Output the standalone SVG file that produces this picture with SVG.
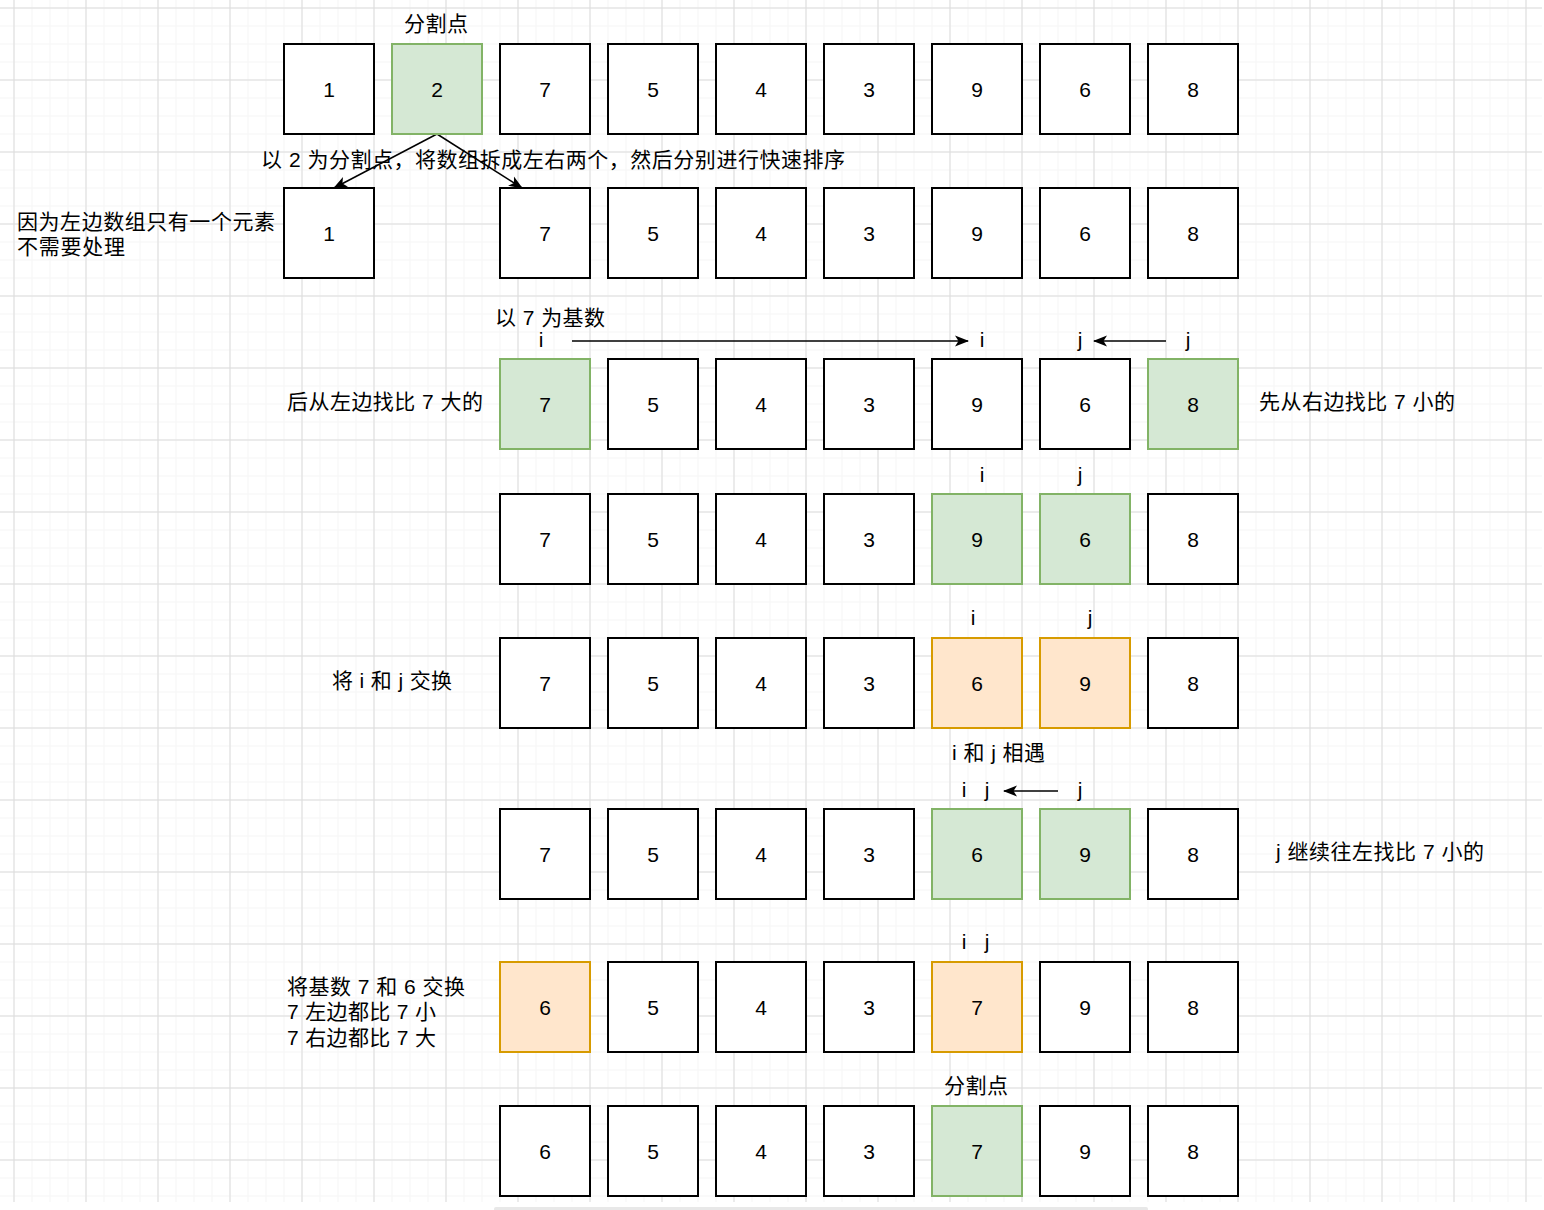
<svg xmlns="http://www.w3.org/2000/svg" width="1544" height="1210" viewBox="0 0 1544 1210">
<style>
.b{fill:#ffffff;stroke:#000000;stroke-width:2}
.g{fill:#d5e8d4;stroke:#82b366;stroke-width:2}
.o{fill:#ffe6cc;stroke:#d79b00;stroke-width:2}
text{font-family:"Liberation Sans","Noto Sans CJK SC",sans-serif;font-size:21px;fill:#000000}
.c{text-anchor:middle}
.e{stroke:#000000;stroke-width:1.5;fill:none}
</style>
<defs>
<pattern id="minor" patternUnits="userSpaceOnUse" x="13.5" y="7.5" width="18" height="18">
<path d="M0 0H18M0 0V18" stroke="#f3f3f3" stroke-width="1.5" fill="none"/>
</pattern>
<pattern id="major" patternUnits="userSpaceOnUse" x="13.5" y="7.5" width="72" height="72">
<path d="M0 0.5H72M0.5 0V72" stroke="#dcdcdc" stroke-width="1" fill="none"/>
</pattern>
<marker id="arr" markerWidth="14" markerHeight="14" viewBox="0 0 14 14" refX="13" refY="7" orient="auto" markerUnits="userSpaceOnUse">
<path d="M0 1.5L14 7L0 12.5L3.5 7Z" fill="#000000"/>
</marker>
</defs>
<rect x="0" y="0" width="1544" height="1210" fill="#ffffff"/>
<rect x="0" y="0" width="1542" height="1202" fill="url(#minor)"/>
<rect x="0" y="0" width="1542" height="1202" fill="url(#major)"/>
<rect x="494" y="1207" width="654" height="4" rx="2" fill="#e8e8e8"/>

<g id="connectors">
<path class="e" d="M437 134L334 188" marker-end="url(#arr)"/>
<path class="e" d="M437 134L522 188" marker-end="url(#arr)"/>
<path class="e" d="M572 341H968" marker-end="url(#arr)"/>
<path class="e" d="M1166 341H1094" marker-end="url(#arr)"/>
<path class="e" d="M1058 791H1004" marker-end="url(#arr)"/>
</g>

<g id="labels">
<text class="c" x="436" y="31" textLength="64" lengthAdjust="spacing">分割点</text>
<text x="261" y="167" textLength="584" lengthAdjust="spacing">以 2 为分割点，将数组拆成左右两个，然后分别进行快速排序</text>
<text x="17" y="229" textLength="258" lengthAdjust="spacing">因为左边数组只有一个元素</text>
<text x="17" y="254" textLength="108" lengthAdjust="spacing">不需要处理</text>
<text x="495" y="325" textLength="110" lengthAdjust="spacing">以 7 为基数</text>
<text class="c" x="541" y="347">i</text>
<text class="c" x="982" y="347">i</text>
<text class="c" x="1080" y="347">j</text>
<text class="c" x="1188" y="347">j</text>
<text x="287" y="409" textLength="196" lengthAdjust="spacing">后从左边找比 7 大的</text>
<text x="1259" y="409" textLength="196" lengthAdjust="spacing">先从右边找比 7 小的</text>
<text class="c" x="982" y="482">i</text>
<text class="c" x="1080" y="482">j</text>
<text class="c" x="973" y="625">i</text>
<text class="c" x="1090" y="625">j</text>
<text x="332" y="688" textLength="120" lengthAdjust="spacing">将 i 和 j 交换</text>
<text x="952" y="760" textLength="93" lengthAdjust="spacing">i 和 j 相遇</text>
<text class="c" x="964" y="797">i</text>
<text class="c" x="987" y="797">j</text>
<text class="c" x="1080" y="797">j</text>
<text x="1276" y="859" textLength="208" lengthAdjust="spacing">j 继续往左找比 7 小的</text>
<text class="c" x="964" y="949">i</text>
<text class="c" x="987" y="949">j</text>
<text x="287" y="994" textLength="178" lengthAdjust="spacing">将基数 7 和 6 交换</text>
<text x="287" y="1019" textLength="149" lengthAdjust="spacing">7 左边都比 7 小</text>
<text x="287" y="1045" textLength="149" lengthAdjust="spacing">7 右边都比 7 大</text>
<text class="c" x="976" y="1093" textLength="64" lengthAdjust="spacing">分割点</text>
</g>

<g id="r1n1"><rect class="b" x="284" y="44" width="90" height="90"/><text class="c" x="329" y="96.5">1</text></g>
<g id="r1n2"><rect class="g" x="392" y="44" width="90" height="90"/><text class="c" x="437" y="96.5">2</text></g>
<g id="r1n3"><rect class="b" x="500" y="44" width="90" height="90"/><text class="c" x="545" y="96.5">7</text></g>
<g id="r1n4"><rect class="b" x="608" y="44" width="90" height="90"/><text class="c" x="653" y="96.5">5</text></g>
<g id="r1n5"><rect class="b" x="716" y="44" width="90" height="90"/><text class="c" x="761" y="96.5">4</text></g>
<g id="r1n6"><rect class="b" x="824" y="44" width="90" height="90"/><text class="c" x="869" y="96.5">3</text></g>
<g id="r1n7"><rect class="b" x="932" y="44" width="90" height="90"/><text class="c" x="977" y="96.5">9</text></g>
<g id="r1n8"><rect class="b" x="1040" y="44" width="90" height="90"/><text class="c" x="1085" y="96.5">6</text></g>
<g id="r1n9"><rect class="b" x="1148" y="44" width="90" height="90"/><text class="c" x="1193" y="96.5">8</text></g>

<g id="r2n1"><rect class="b" x="284" y="188" width="90" height="90"/><text class="c" x="329" y="240.5">1</text></g>
<g id="r2n3"><rect class="b" x="500" y="188" width="90" height="90"/><text class="c" x="545" y="240.5">7</text></g>
<g id="r2n4"><rect class="b" x="608" y="188" width="90" height="90"/><text class="c" x="653" y="240.5">5</text></g>
<g id="r2n5"><rect class="b" x="716" y="188" width="90" height="90"/><text class="c" x="761" y="240.5">4</text></g>
<g id="r2n6"><rect class="b" x="824" y="188" width="90" height="90"/><text class="c" x="869" y="240.5">3</text></g>
<g id="r2n7"><rect class="b" x="932" y="188" width="90" height="90"/><text class="c" x="977" y="240.5">9</text></g>
<g id="r2n8"><rect class="b" x="1040" y="188" width="90" height="90"/><text class="c" x="1085" y="240.5">6</text></g>
<g id="r2n9"><rect class="b" x="1148" y="188" width="90" height="90"/><text class="c" x="1193" y="240.5">8</text></g>

<g id="r3n3"><rect class="g" x="500" y="359" width="90" height="90"/><text class="c" x="545" y="411.5">7</text></g>
<g id="r3n4"><rect class="b" x="608" y="359" width="90" height="90"/><text class="c" x="653" y="411.5">5</text></g>
<g id="r3n5"><rect class="b" x="716" y="359" width="90" height="90"/><text class="c" x="761" y="411.5">4</text></g>
<g id="r3n6"><rect class="b" x="824" y="359" width="90" height="90"/><text class="c" x="869" y="411.5">3</text></g>
<g id="r3n7"><rect class="b" x="932" y="359" width="90" height="90"/><text class="c" x="977" y="411.5">9</text></g>
<g id="r3n8"><rect class="b" x="1040" y="359" width="90" height="90"/><text class="c" x="1085" y="411.5">6</text></g>
<g id="r3n9"><rect class="g" x="1148" y="359" width="90" height="90"/><text class="c" x="1193" y="411.5">8</text></g>

<g id="r4n3"><rect class="b" x="500" y="494" width="90" height="90"/><text class="c" x="545" y="546.5">7</text></g>
<g id="r4n4"><rect class="b" x="608" y="494" width="90" height="90"/><text class="c" x="653" y="546.5">5</text></g>
<g id="r4n5"><rect class="b" x="716" y="494" width="90" height="90"/><text class="c" x="761" y="546.5">4</text></g>
<g id="r4n6"><rect class="b" x="824" y="494" width="90" height="90"/><text class="c" x="869" y="546.5">3</text></g>
<g id="r4n7"><rect class="g" x="932" y="494" width="90" height="90"/><text class="c" x="977" y="546.5">9</text></g>
<g id="r4n8"><rect class="g" x="1040" y="494" width="90" height="90"/><text class="c" x="1085" y="546.5">6</text></g>
<g id="r4n9"><rect class="b" x="1148" y="494" width="90" height="90"/><text class="c" x="1193" y="546.5">8</text></g>

<g id="r5n3"><rect class="b" x="500" y="638" width="90" height="90"/><text class="c" x="545" y="690.5">7</text></g>
<g id="r5n4"><rect class="b" x="608" y="638" width="90" height="90"/><text class="c" x="653" y="690.5">5</text></g>
<g id="r5n5"><rect class="b" x="716" y="638" width="90" height="90"/><text class="c" x="761" y="690.5">4</text></g>
<g id="r5n6"><rect class="b" x="824" y="638" width="90" height="90"/><text class="c" x="869" y="690.5">3</text></g>
<g id="r5n7"><rect class="o" x="932" y="638" width="90" height="90"/><text class="c" x="977" y="690.5">6</text></g>
<g id="r5n8"><rect class="o" x="1040" y="638" width="90" height="90"/><text class="c" x="1085" y="690.5">9</text></g>
<g id="r5n9"><rect class="b" x="1148" y="638" width="90" height="90"/><text class="c" x="1193" y="690.5">8</text></g>

<g id="r6n3"><rect class="b" x="500" y="809" width="90" height="90"/><text class="c" x="545" y="861.5">7</text></g>
<g id="r6n4"><rect class="b" x="608" y="809" width="90" height="90"/><text class="c" x="653" y="861.5">5</text></g>
<g id="r6n5"><rect class="b" x="716" y="809" width="90" height="90"/><text class="c" x="761" y="861.5">4</text></g>
<g id="r6n6"><rect class="b" x="824" y="809" width="90" height="90"/><text class="c" x="869" y="861.5">3</text></g>
<g id="r6n7"><rect class="g" x="932" y="809" width="90" height="90"/><text class="c" x="977" y="861.5">6</text></g>
<g id="r6n8"><rect class="g" x="1040" y="809" width="90" height="90"/><text class="c" x="1085" y="861.5">9</text></g>
<g id="r6n9"><rect class="b" x="1148" y="809" width="90" height="90"/><text class="c" x="1193" y="861.5">8</text></g>

<g id="r7n3"><rect class="o" x="500" y="962" width="90" height="90"/><text class="c" x="545" y="1014.5">6</text></g>
<g id="r7n4"><rect class="b" x="608" y="962" width="90" height="90"/><text class="c" x="653" y="1014.5">5</text></g>
<g id="r7n5"><rect class="b" x="716" y="962" width="90" height="90"/><text class="c" x="761" y="1014.5">4</text></g>
<g id="r7n6"><rect class="b" x="824" y="962" width="90" height="90"/><text class="c" x="869" y="1014.5">3</text></g>
<g id="r7n7"><rect class="o" x="932" y="962" width="90" height="90"/><text class="c" x="977" y="1014.5">7</text></g>
<g id="r7n8"><rect class="b" x="1040" y="962" width="90" height="90"/><text class="c" x="1085" y="1014.5">9</text></g>
<g id="r7n9"><rect class="b" x="1148" y="962" width="90" height="90"/><text class="c" x="1193" y="1014.5">8</text></g>

<g id="r8n3"><rect class="b" x="500" y="1106" width="90" height="90"/><text class="c" x="545" y="1158.5">6</text></g>
<g id="r8n4"><rect class="b" x="608" y="1106" width="90" height="90"/><text class="c" x="653" y="1158.5">5</text></g>
<g id="r8n5"><rect class="b" x="716" y="1106" width="90" height="90"/><text class="c" x="761" y="1158.5">4</text></g>
<g id="r8n6"><rect class="b" x="824" y="1106" width="90" height="90"/><text class="c" x="869" y="1158.5">3</text></g>
<g id="r8n7"><rect class="g" x="932" y="1106" width="90" height="90"/><text class="c" x="977" y="1158.5">7</text></g>
<g id="r8n8"><rect class="b" x="1040" y="1106" width="90" height="90"/><text class="c" x="1085" y="1158.5">9</text></g>
<g id="r8n9"><rect class="b" x="1148" y="1106" width="90" height="90"/><text class="c" x="1193" y="1158.5">8</text></g>
</svg>
